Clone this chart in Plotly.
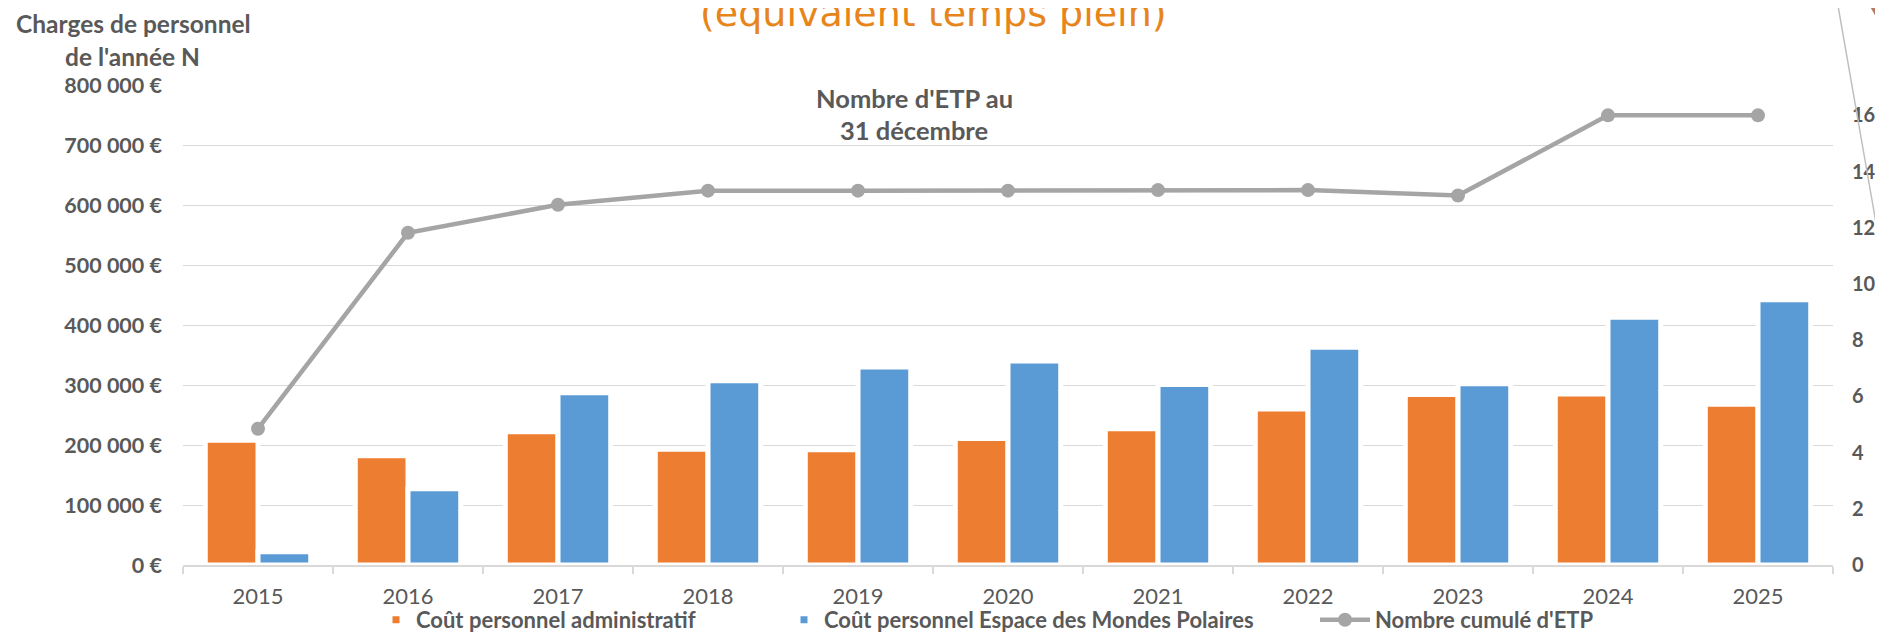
import plotly.graph_objects as go

# ---- data ----
years = ["2015", "2016", "2017", "2018", "2019", "2020", "2021", "2022", "2023", "2024", "2025"]
cout_admin = [208000, 182000, 222000, 193000, 192000, 211000, 227000, 260000, 284000, 285000, 268000]
cout_emp = [22000, 127000, 287000, 307000, 330000, 340000, 301000, 363000, 302000, 413000, 442000]
etp_cumul = [4.85, 11.82, 12.82, 13.32, 13.32, 13.32, 13.34, 13.34, 13.15, 16, 16]

left_tickvals = [0, 100000, 200000, 300000, 400000, 500000, 600000, 700000, 800000]
left_ticktext = ["0 €", "100 000 €", "200 000 €", "300 000 €", "400 000 €",
                 "500 000 €", "600 000 €", "700 000 €", "800 000 €"]
right_tickvals = [0, 2, 4, 6, 8, 10, 12, 14, 16]

name_admin = "Coût personnel administratif"
name_emp = "Coût personnel Espace des Mondes Polaires"
name_etp = "Nombre cumulé d'ETP"

# ---- style ----
# the page body has an 8px margin, so the figure is 8px smaller than the window
OFF = 8
W, H = 1883 - OFF, 632 - OFF
PLOT_L, PLOT_R, PLOT_T, PLOT_B = 183, 1833, 85, 565   # absolute window pixels
ML = PLOT_L - OFF
MT = PLOT_T - OFF
MR = OFF + W - PLOT_R
MB = OFF + H - PLOT_B
PW = PLOT_R - PLOT_L
PH = PLOT_B - PLOT_T
ORANGE = "#ED7D31"
BLUE = "#5B9BD5"
GREY = "#A5A5A5"
TXT = "#595959"
GRID = "#D9D9D9"
FONT = "Lato"


def px_x(px):
    return (px - PLOT_L) / PW


def px_y(py):
    return (PLOT_B - py) / PH


fig = go.Figure()
fig.add_trace(go.Bar(
    x=years, y=cout_admin, name=name_admin,
    marker=dict(color=ORANGE, line=dict(color="white", width=5)),
    legend="legend",
))
fig.add_trace(go.Bar(
    x=years, y=cout_emp, name=name_emp,
    marker=dict(color=BLUE, line=dict(color="white", width=5)),
    legend="legend2",
))
fig.add_trace(go.Scatter(
    x=years, y=etp_cumul, name=name_etp, yaxis="y2",
    mode="lines+markers",
    line=dict(color=GREY, width=4.5),
    marker=dict(color=GREY, size=14),
    legend="legend3",
))

legend_font = dict(family=FONT, size=22, color=TXT, weight="bold")
LEG_Y = px_y(620)
fig.update_layout(
    width=W, height=H, autosize=False,
    margin=dict(l=ML, r=MR, t=MT, b=MB, pad=0, autoexpand=False),
    paper_bgcolor="white", plot_bgcolor="white",
    barmode="group", bargap=0.297, bargroupgap=0,
    font=dict(family=FONT, color=TXT),
    xaxis=dict(
        type="category", range=[-0.5, len(years) - 0.5], showgrid=False,
        showline=True, linecolor=GRID, linewidth=1.5,
        ticks="outside", tickson="boundaries", ticklen=7, tickcolor=GRID, tickwidth=1.5,
        ticklabelstandoff=11,
        tickfont=dict(family=FONT, size=22, color=TXT),
        fixedrange=True,
    ),
    yaxis=dict(
        range=[0, 800000], tickvals=left_tickvals, ticktext=left_ticktext,
        showgrid=True, gridcolor=GRID, gridwidth=1.4, zeroline=False,
        showline=False, ticks="", ticklabelstandoff=20,
        tickfont=dict(family=FONT, size=21.5, color=TXT, weight="bold"),
    ),
    yaxis2=dict(
        overlaying="y", side="right", range=[0, 17.08], tickvals=right_tickvals,
        showgrid=False, zeroline=False, showline=False, ticks="",
        ticklabelstandoff=18,
        tickfont=dict(family=FONT, size=20, color=TXT, weight="bold"),
    ),
    legend=dict(orientation="h", x=px_x(376), y=LEG_Y, xanchor="left", yanchor="middle",
                font=legend_font, bgcolor="rgba(0,0,0,0)"),
    legend2=dict(orientation="h", x=px_x(784), y=LEG_Y, xanchor="left", yanchor="middle",
                 font=legend_font, bgcolor="rgba(0,0,0,0)"),
    legend3=dict(orientation="h", x=px_x(1315), y=LEG_Y, xanchor="left", yanchor="middle",
                 itemwidth=50, font=legend_font, bgcolor="rgba(0,0,0,0)"),
    showlegend=True,
)

annotations = [
    dict(text="Charges de personnel", x=px_x(133), y=px_y(23), size=24.5),
    dict(text="de l'année N", x=px_x(132), y=px_y(56), size=24.5),
    dict(text="Nombre d'ETP au", x=px_x(914), y=px_y(98), size=25.5),
    dict(text="31 décembre", x=px_x(914), y=px_y(130), size=25.5),
]
for a in annotations:
    size = a.pop("size")
    fig.add_annotation(xref="paper", yref="paper", showarrow=False,
                       xanchor="center", yanchor="middle",
                       font=dict(family=FONT, size=size, color=TXT, weight="bold"), **a)

fig.add_annotation(
    text="(equivalent temps plein)", xref="paper", yref="paper",
    x=px_x(933), y=px_y(37), xanchor="center", yanchor="bottom", showarrow=False,
    font=dict(family="DejaVu Sans", size=38, color="#E8851A"),
)

# decorative elements at top-right corner
fig.add_shape(type="line", xref="paper", yref="paper",
              x0=px_x(1837), y0=px_y(0), x1=px_x(1883), y1=px_y(263),
              line=dict(color="#BFBFBF", width=1.5))
fig.add_shape(type="path", xref="paper", yref="paper",
              path=f"M {px_x(1865)},{px_y(-2)} L {px_x(1886)},{px_y(-2)} "
                   f"L {px_x(1886)},{px_y(28)} L {px_x(1879)},{px_y(22)} Z",
              fillcolor="#B47A62", line=dict(width=0), layer="above")

fig.write_html("out.html")
